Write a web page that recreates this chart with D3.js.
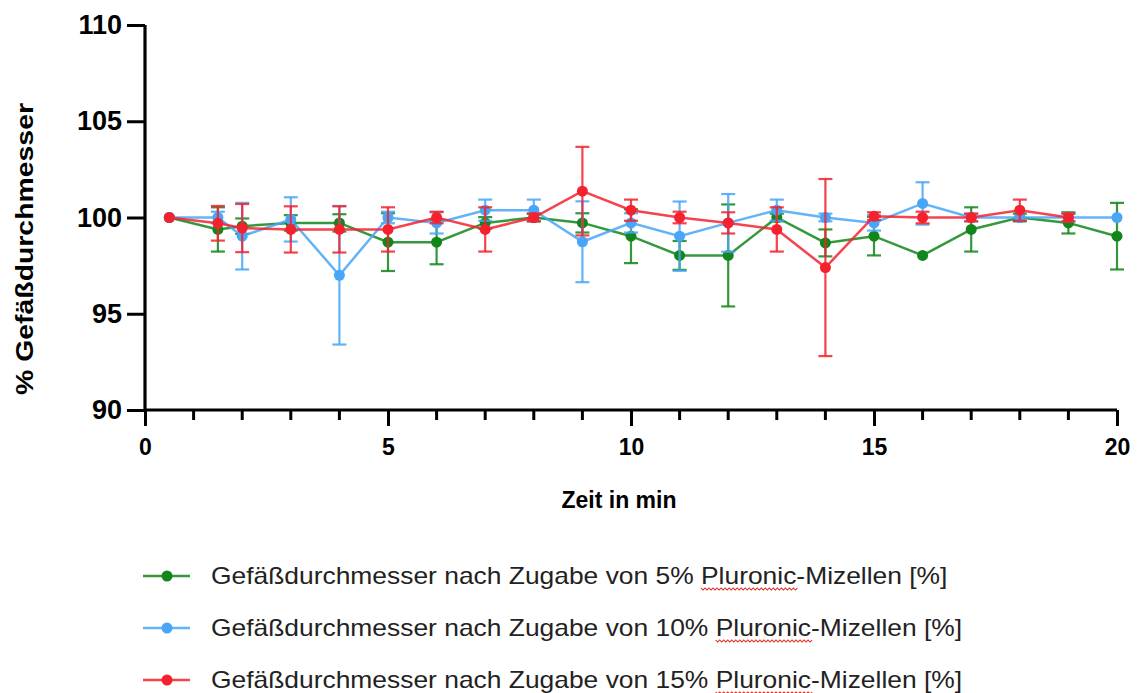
<!DOCTYPE html>
<html>
<head>
<meta charset="utf-8">
<script src="https://cdn.jsdelivr.net/npm/d3@7"></script>
<style>
  body { margin: 0; background: #fff; }
  svg { display: block; }
</style>
</head>
<body>
<div id="chart"></div>
<script>
// time points (min)
var zeit = [0.5, 1.5, 2, 3, 4, 5, 6, 7, 8, 9, 10, 11, 12, 13, 14, 15, 16, 17, 18, 19, 20];

// 5 % Pluronic
var werte5 = [100, 99.38, 99.55, 99.72, 99.72, 98.72, 98.72, 99.72, 100, 99.72, 99.03, 98.03, 98.03, 100, 98.68, 99.03, 98.03, 99.38, 100, 99.72, 99.03];
var fehler5 = [0, 1.15, 0.4, 0.4, 0.45, 1.5, 1.15, 0.3, 0.2, 0.5, 1.4, 0.75, 2.65, 0.2, 0.7, 1.0, 0, 1.15, 0.2, 0.55, 1.73];

// 10 % Pluronic
var werte10 = [100, 100, 99.03, 99.9, 97.0, 100, 99.72, 100.38, 100.38, 98.74, 99.72, 99.03, 99.72, 100.38, 100, 99.72, 100.73, 100, 100, 100, 100];
var fehler10 = [0, 0.3, 1.73, 1.15, 3.6, 0.3, 0.55, 0.55, 0.55, 2.1, 0.5, 1.8, 1.5, 0.55, 0.2, 0.4, 1.1, 0.2, 0, 0.2, 0];

// 15 % Pluronic (no value at 20 min)
var werte15 = [100, 99.7, 99.45, 99.38, 99.38, 99.38, 100, 99.38, 100, 101.37, 100.38, 100, 99.72, 99.38, 97.4, 100.07, 100, 100, 100.38, 100];
var fehler15 = [0, 0.9, 1.25, 1.2, 1.2, 1.15, 0.3, 1.15, 0.2, 2.3, 0.55, 0.3, 0.55, 1.15, 4.6, 0.2, 0.3, 0.2, 0.55, 0.2];

var yTicks = [90, 95, 100, 105, 110];
var xTicks = [0, 5, 10, 15, 20];

var serien = [
  {name: "Gefäßdurchmesser nach Zugabe von 5% ", werte: werte5, fehler: fehler5, farbe: "#11861a"},
  {name: "Gefäßdurchmesser nach Zugabe von 10% ", werte: werte10, fehler: fehler10, farbe: "#48a6f8"},
  {name: "Gefäßdurchmesser nach Zugabe von 15% ", werte: werte15, fehler: fehler15, farbe: "#f4222f"}
];

var width = 1141, height = 693;
var svg = d3.select("#chart").append("svg")
  .attr("width", width)
  .attr("height", height)
  .style("font-family", "'Liberation Sans', Arial, sans-serif");

var x = d3.scaleLinear().domain([0, 20]).range([145, 1117]);
var y = d3.scaleLinear().domain([90, 110]).range([410, 25]);

// error bars, lines and points per series
serien.forEach(function(s) {
  var pts = s.werte.map(function(v, i) { return {x: zeit[i], y: v, e: s.fehler[i]}; });
  var g = svg.append("g");

  var eb = g.selectAll(".eb").data(pts.filter(function(d) { return d.e > 0; }))
    .enter().append("g");
  eb.append("line")
    .attr("x1", function(d) { return x(d.x); })
    .attr("x2", function(d) { return x(d.x); })
    .attr("y1", function(d) { return y(d.y - d.e); })
    .attr("y2", function(d) { return y(d.y + d.e); })
    .attr("stroke", s.farbe).attr("stroke-width", 2.2).attr("opacity", 0.85);
  [-1, 1].forEach(function(sg) {
    eb.append("line")
      .attr("x1", function(d) { return x(d.x) - 7; })
      .attr("x2", function(d) { return x(d.x) + 7; })
      .attr("y1", function(d) { return y(d.y + sg * d.e); })
      .attr("y2", function(d) { return y(d.y + sg * d.e); })
      .attr("stroke", s.farbe).attr("stroke-width", 2.2).attr("opacity", 0.85);
  });

  g.append("path").datum(pts)
    .attr("fill", "none")
    .attr("stroke", s.farbe)
    .attr("stroke-width", 2.5)
    .attr("opacity", 0.85)
    .attr("d", d3.line().x(function(d) { return x(d.x); }).y(function(d) { return y(d.y); }));

  g.selectAll("circle").data(pts).enter().append("circle")
    .attr("cx", function(d) { return x(d.x); })
    .attr("cy", function(d) { return y(d.y); })
    .attr("r", 5.5)
    .attr("fill", s.farbe);
});

// y axis
var yAxis = svg.append("g").attr("transform", "translate(145,0)")
  .call(d3.axisLeft(y).tickValues(yTicks).tickSize(18).tickPadding(5).tickFormat(d3.format("d")));
yAxis.select(".domain").attr("d", "M0," + y(110) + "V" + y(90)).attr("stroke-width", 3.2);
yAxis.selectAll(".tick line").attr("stroke-width", 3);
yAxis.selectAll(".tick text").attr("font-size", 27).attr("font-weight", "bold").attr("fill", "#000")
  .attr("font-family", "'Liberation Sans', Arial, sans-serif");

// x axis: minor ticks every minute, major ticks every 5
var xAxis = svg.append("g").attr("transform", "translate(0," + y(90) + ")")
  .call(d3.axisBottom(x).tickValues(xTicks).tickSize(16).tickPadding(13).tickFormat(d3.format("d")));
xAxis.select(".domain").attr("d", "M" + x(0) + ",0H" + x(20)).attr("stroke-width", 3.2);
xAxis.selectAll(".tick line").attr("stroke-width", 3);
xAxis.selectAll(".tick text").attr("font-size", 23).attr("font-weight", "bold").attr("fill", "#000")
  .attr("font-family", "'Liberation Sans', Arial, sans-serif");
xAxis.selectAll(".minor").data(d3.range(1, 20).filter(function(v) { return v % 5 !== 0; }))
  .enter().append("line").attr("class", "minor")
  .attr("x1", function(d) { return x(d); }).attr("x2", function(d) { return x(d); })
  .attr("y1", 0).attr("y2", 10)
  .attr("stroke", "#000").attr("stroke-width", 3);

// axis titles
svg.append("text")
  .attr("x", 619).attr("y", 508)
  .attr("text-anchor", "middle")
  .attr("font-size", 23).attr("font-weight", "bold")
  .text("Zeit in min");

svg.append("text")
  .attr("transform", "translate(33,249) rotate(-90)")
  .attr("text-anchor", "middle")
  .attr("font-size", 24).attr("font-weight", "bold")
  .attr("textLength", 292).attr("lengthAdjust", "spacingAndGlyphs")
  .text("% Gefäßdurchmesser");

// legend
var leg = svg.selectAll(".leg").data(serien).enter().append("g")
  .attr("transform", function(d, i) { return "translate(0," + (576 + i * 52) + ")"; });
leg.append("line").attr("x1", 143).attr("x2", 190).attr("y1", 0).attr("y2", 0)
  .attr("stroke", function(d) { return d.farbe; }).attr("stroke-width", 2.5).attr("opacity", 0.85);
leg.append("circle").attr("cx", 167).attr("cy", 0).attr("r", 5.5)
  .attr("fill", function(d) { return d.farbe; });
var legText = leg.append("g").attr("transform", "translate(211,0) scale(1.148,1)");
var lt = legText.append("text").attr("x", 0).attr("y", 8).attr("font-size", 23).attr("fill", "#222");
lt.append("tspan").text(function(d) { return d.name; });
lt.append("tspan").text("Pluronic");
lt.append("tspan").text("-Mizellen [%]");

// spellcheck squiggle under "Pluronic"
lt.each(function() {
  var t = this;
  var start = t.textContent.indexOf("Pluronic");
  var x0 = t.getStartPositionOfChar(start).x;
  var x1 = t.getEndPositionOfChar(start + 7).x;
  var p = "M" + x0 + ",12";
  for (var xx = x0; xx < x1; xx += 3.5) {
    p += "L" + (xx + 1.75) + ",14L" + (xx + 3.5) + ",12";
  }
  d3.select(t.parentNode).append("path").attr("d", p)
    .attr("fill", "none").attr("stroke", "#e0302a").attr("stroke-width", 1);
});
</script>
</body>
</html>
